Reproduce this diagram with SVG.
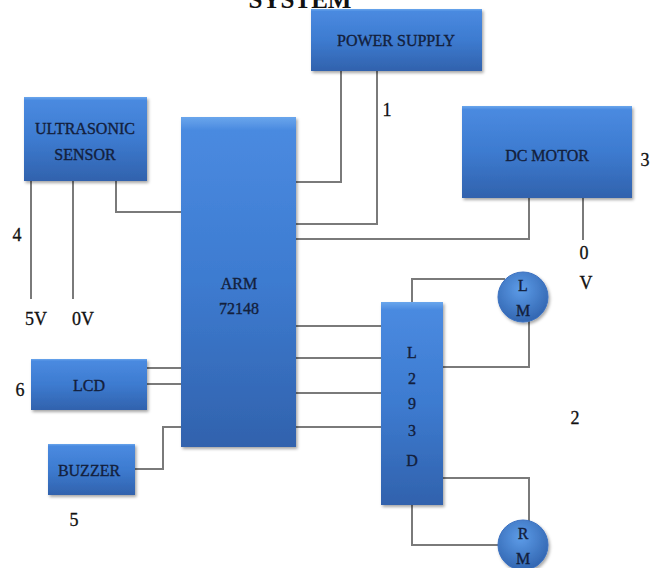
<svg xmlns="http://www.w3.org/2000/svg" width="651" height="568" viewBox="0 0 651 568">
<defs>
<linearGradient id="g" x1="0" y1="0" x2="0" y2="1">
<stop offset="0" stop-color="#6aa6ec"/>
<stop offset="0.04" stop-color="#4a8ae0"/>
<stop offset="0.5" stop-color="#3d7bd0"/>
<stop offset="1" stop-color="#3162ad"/>
</linearGradient>
<radialGradient id="rg" cx="0.45" cy="0.35" r="0.7">
<stop offset="0" stop-color="#5d9ce8"/>
<stop offset="1" stop-color="#2f62ad"/>
</radialGradient>
<filter id="sh" x="-10%" y="-10%" width="125%" height="125%">
<feDropShadow dx="1.5" dy="2" stdDeviation="1.5" flood-color="#000" flood-opacity="0.35"/>
</filter>
</defs>
<style>
.box{fill:url(#g);filter:url(#sh)}
.circ{fill:url(#rg);stroke:#3a70c0;stroke-width:1;filter:url(#sh)}
.t{font-family:"Liberation Serif","Times New Roman",serif;font-size:16px;fill:#13203c;stroke:#13203c;stroke-width:0.35;text-anchor:middle}
.n{font-family:"Liberation Serif","Times New Roman",serif;font-size:18px;fill:#111;stroke:#111;stroke-width:0.3;text-anchor:middle}
.w{fill:none;stroke:#7a7a7a;stroke-width:2}
</style>
<rect width="651" height="568" fill="#fff"/>
<text x="300" y="8" font-family="Liberation Serif,serif" font-size="25" font-weight="bold" text-anchor="middle" fill="#111">SYSTEM</text>

<g id="connectors">
<polyline class="w" points="341,71 341,182 296,182"/>
<polyline class="w" points="377,71 377,224 296,224"/>
<polyline class="w" points="529,197 529,239 296,239"/>
<polyline class="w" points="583,197 583,240"/>
<polyline class="w" points="31,181 31,299"/>
<polyline class="w" points="73,181 73,299"/>
<polyline class="w" points="116,181 116,212 181,212"/>
<polyline class="w" points="146,368 181,368"/>
<polyline class="w" points="146,384 181,384"/>
<polyline class="w" points="135,469 163,469 163,427 181,427"/>
<polyline class="w" points="296,326 381,326"/>
<polyline class="w" points="296,358 381,358"/>
<polyline class="w" points="296,393 381,393"/>
<polyline class="w" points="296,427 381,427"/>
<polyline class="w" points="412,302 412,279 505,279"/>
<polyline class="w" points="529,318 529,367 443,367"/>
<polyline class="w" points="443,478 529,478 529,522"/>
<polyline class="w" points="412,504 412,545 498,545"/>
</g>

<g id="power-supply">
<rect class="box" x="311" y="9" width="171" height="62"/>
<text class="t" x="396" y="46">POWER SUPPLY</text>
</g>
<g id="ultrasonic-sensor">
<rect class="box" x="24" y="97" width="123" height="84"/>
<text class="t" x="85" y="134">ULTRASONIC</text>
<text class="t" x="85" y="160">SENSOR</text>
</g>
<g id="arm">
<rect class="box" x="181" y="117" width="115" height="330"/>
<text class="t" x="239" y="289">ARM</text>
<text class="t" x="239" y="314">72148</text>
</g>
<g id="dc-motor">
<rect class="box" x="462" y="106" width="170" height="92"/>
<text class="t" x="547" y="161">DC MOTOR</text>
</g>
<g id="l293d">
<rect class="box" x="381" y="302" width="62" height="203"/>
<text class="t" x="412" y="358">L</text>
<text class="t" x="412" y="384">2</text>
<text class="t" x="412" y="409">9</text>
<text class="t" x="412" y="436">3</text>
<text class="t" x="412" y="466">D</text>
</g>
<g id="left-motor">
<circle class="circ" cx="523" cy="297" r="25"/>
<text class="t" x="523" y="291">L</text>
<text class="t" x="523" y="316">M</text>
</g>
<g id="right-motor">
<circle class="circ" cx="523" cy="545" r="25"/>
<text class="t" x="523" y="539">R</text>
<text class="t" x="523" y="564">M</text>
</g>
<g id="lcd">
<rect class="box" x="31" y="359" width="116" height="51"/>
<text class="t" x="89" y="391">LCD</text>
</g>
<g id="buzzer">
<rect class="box" x="48" y="444" width="87" height="51"/>
<text class="t" x="89" y="476">BUZZER</text>
</g>

<g id="labels">
<text class="n" x="387" y="116">1</text>
<text class="n" x="575" y="424">2</text>
<text class="n" x="645" y="166">3</text>
<text class="n" x="17" y="241">4</text>
<text class="n" x="74" y="526">5</text>
<text class="n" x="20" y="396">6</text>
<text class="n" x="36" y="325">5V</text>
<text class="n" x="83" y="325">0V</text>
<text class="n" x="584" y="259">0</text>
<text class="n" x="586" y="289">V</text>
</g>
</svg>
